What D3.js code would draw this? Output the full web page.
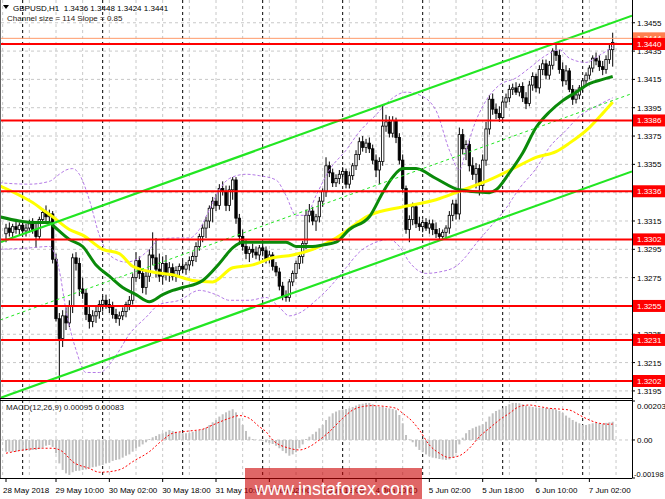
<!DOCTYPE html>
<html><head><meta charset="utf-8">
<script src="https://cdn.jsdelivr.net/npm/d3@7"></script>
<style>body{margin:0;background:#fff;} svg{display:block;} text{font-family:"Liberation Sans",Arial,sans-serif;}</style>
</head><body><svg id="c" width="665" height="499"></svg>
<script>
// ---------- DATA ----------
const symbolHeader = "GBPUSD,H1  1.3436 1.3448 1.3424 1.3441";
const channelHeader = "Channel size = 114 Slope = 0.85";
const macdHeader = "MACD(12,26,9) 0.00095 0.00083";
const watermark = "www.instaforex.com";

// hourly candles [open, high, low, close], 28 May 19:00 .. 7 Jun 09:00
const candles = [
[1.3306,1.3313,1.3300,1.3310],[1.3310,1.3314,1.3304,1.3307],[1.3307,1.3313,1.3303,1.3311],[1.3311,1.3316,1.3306,1.3309],[1.3309,1.3314,1.3305,1.3312],
[1.3312,1.3315,1.3306,1.3308],[1.3308,1.3313,1.3304,1.3310],[1.3310,1.3316,1.3307,1.3313],[1.3313,1.3317,1.3306,1.3309],[1.3309,1.3314,1.3296,1.3304],
[1.3304,1.3318,1.3302,1.3316],[1.3316,1.3324,1.3313,1.3321],[1.3321,1.3326,1.3315,1.3318],[1.3318,1.3323,1.3312,1.3320],[1.3320,1.3322,1.3285,1.3288],
[1.3288,1.3292,1.3244,1.3246],[1.3246,1.3250,1.3202,1.3232],[1.3232,1.3252,1.3226,1.3248],[1.3248,1.3254,1.3238,1.3243],[1.3243,1.3259,1.3240,1.3255],
[1.3255,1.3292,1.3250,1.3289],[1.3289,1.3293,1.3280,1.3285],[1.3285,1.3289,1.3262,1.3267],[1.3267,1.3275,1.3260,1.3264],[1.3264,1.3267,1.3245,1.3249],
[1.3249,1.3255,1.3239,1.3244],[1.3244,1.3252,1.3240,1.3248],[1.3248,1.3255,1.3243,1.3251],[1.3251,1.3259,1.3246,1.3256],[1.3256,1.3262,1.3251,1.3259],
[1.3259,1.3263,1.3253,1.3256],[1.3256,1.3260,1.3250,1.3254],[1.3254,1.3258,1.3246,1.3249],[1.3249,1.3253,1.3243,1.3246],[1.3246,1.3251,1.3241,1.3248],
[1.3248,1.3254,1.3245,1.3251],[1.3251,1.3258,1.3247,1.3256],[1.3256,1.3262,1.3252,1.3259],[1.3259,1.3278,1.3256,1.3275],[1.3275,1.3293,1.3272,1.3287],
[1.3287,1.3290,1.3274,1.3278],[1.3278,1.3281,1.3264,1.3268],[1.3268,1.3280,1.3263,1.3276],[1.3276,1.3295,1.3272,1.3291],[1.3291,1.3307,1.3284,1.3289],
[1.3289,1.3303,1.3275,1.3281],[1.3281,1.3292,1.3272,1.3276],[1.3276,1.3290,1.3270,1.3285],[1.3285,1.3291,1.3273,1.3277],[1.3277,1.3286,1.3272,1.3282],
[1.3282,1.3285,1.3273,1.3276],[1.3276,1.3283,1.3272,1.3280],[1.3280,1.3285,1.3276,1.3283],[1.3283,1.3287,1.3278,1.3281],[1.3281,1.3286,1.3277,1.3284],
[1.3284,1.3290,1.3280,1.3287],[1.3287,1.3293,1.3283,1.3290],[1.3290,1.3300,1.3286,1.3297],[1.3297,1.3306,1.3294,1.3304],[1.3304,1.3313,1.3300,1.3310],
[1.3310,1.3318,1.3303,1.3315],[1.3315,1.3326,1.3310,1.3324],[1.3324,1.3332,1.3314,1.3329],[1.3329,1.3334,1.3322,1.3326],[1.3326,1.3341,1.3323,1.3338],
[1.3338,1.3343,1.3333,1.3336],[1.3336,1.3340,1.3322,1.3326],[1.3326,1.3340,1.3322,1.3337],[1.3337,1.3346,1.3330,1.3344],[1.3344,1.3346,1.3313,1.3317],
[1.3317,1.3320,1.3298,1.3304],[1.3304,1.3309,1.3294,1.3297],[1.3297,1.3302,1.3288,1.3292],[1.3292,1.3297,1.3286,1.3295],[1.3295,1.3299,1.3289,1.3293],
[1.3293,1.3297,1.3288,1.3291],[1.3291,1.3298,1.3287,1.3296],[1.3296,1.3300,1.3290,1.3294],[1.3294,1.3297,1.3285,1.3288],[1.3288,1.3294,1.3285,1.3291],
[1.3291,1.3293,1.3280,1.3283],[1.3283,1.3286,1.3276,1.3279],[1.3279,1.3282,1.3266,1.3269],[1.3269,1.3272,1.3259,1.3262],[1.3262,1.3266,1.3258,1.3261],
[1.3261,1.3274,1.3258,1.3272],[1.3272,1.3280,1.3269,1.3278],[1.3278,1.3287,1.3274,1.3285],[1.3285,1.3292,1.3281,1.3290],[1.3290,1.3301,1.3285,1.3299],
[1.3299,1.3323,1.3295,1.3319],[1.3319,1.3327,1.3314,1.3322],[1.3322,1.3325,1.3312,1.3315],[1.3315,1.3320,1.3308,1.3318],[1.3318,1.3332,1.3314,1.3329],
[1.3329,1.3338,1.3325,1.3336],[1.3336,1.3360,1.3332,1.3354],[1.3354,1.3357,1.3346,1.3349],[1.3349,1.3352,1.3339,1.3342],[1.3342,1.3348,1.3339,1.3345],
[1.3345,1.3351,1.3341,1.3348],[1.3348,1.3353,1.3344,1.3350],[1.3350,1.3352,1.3338,1.3341],[1.3341,1.3350,1.3338,1.3347],[1.3347,1.3356,1.3344,1.3354],
[1.3354,1.3365,1.3351,1.3362],[1.3362,1.3374,1.3358,1.3371],[1.3371,1.3375,1.3364,1.3367],[1.3367,1.3373,1.3363,1.3370],[1.3370,1.3374,1.3363,1.3366],
[1.3366,1.3369,1.3355,1.3358],[1.3358,1.3362,1.3346,1.3351],[1.3351,1.3360,1.3341,1.3357],[1.3357,1.3397,1.3354,1.3382],[1.3382,1.3390,1.3378,1.3385],
[1.3385,1.3389,1.3374,1.3377],[1.3377,1.3389,1.3374,1.3386],[1.3386,1.3388,1.3370,1.3374],[1.3374,1.3377,1.3355,1.3358],[1.3358,1.3362,1.3335,1.3338],
[1.3338,1.3340,1.3306,1.3309],[1.3309,1.3319,1.3300,1.3316],[1.3316,1.3328,1.3312,1.3325],[1.3325,1.3327,1.3310,1.3313],[1.3313,1.3318,1.3308,1.3311],
[1.3311,1.3316,1.3307,1.3314],[1.3314,1.3317,1.3308,1.3310],[1.3310,1.3316,1.3306,1.3313],[1.3313,1.3316,1.3305,1.3309],[1.3309,1.3314,1.3303,1.3306],
[1.3306,1.3310,1.3301,1.3304],[1.3304,1.3309,1.3302,1.3307],[1.3307,1.3312,1.3302,1.3310],[1.3310,1.3322,1.3306,1.3319],[1.3319,1.3330,1.3315,1.3327],
[1.3327,1.3330,1.3316,1.3320],[1.3320,1.3381,1.3316,1.3376],[1.3376,1.3380,1.3362,1.3366],[1.3366,1.3372,1.3358,1.3369],[1.3369,1.3372,1.3350,1.3354],
[1.3354,1.3360,1.3344,1.3348],[1.3348,1.3356,1.3338,1.3352],[1.3352,1.3355,1.3333,1.3340],[1.3340,1.3362,1.3336,1.3358],[1.3358,1.3385,1.3354,1.3380],
[1.3380,1.3404,1.3376,1.3401],[1.3401,1.3405,1.3390,1.3394],[1.3394,1.3398,1.3387,1.3391],[1.3391,1.3396,1.3385,1.3388],[1.3388,1.3401,1.3386,1.3399],
[1.3399,1.3405,1.3395,1.3402],[1.3402,1.3411,1.3399,1.3408],[1.3408,1.3412,1.3404,1.3409],[1.3409,1.3413,1.3404,1.3406],[1.3406,1.3412,1.3403,1.3410],
[1.3410,1.3413,1.3399,1.3402],[1.3402,1.3406,1.3394,1.3398],[1.3398,1.3414,1.3396,1.3411],[1.3411,1.3420,1.3407,1.3417],[1.3417,1.3419,1.3406,1.3409],
[1.3409,1.3425,1.3405,1.3422],[1.3422,1.3429,1.3418,1.3426],[1.3426,1.3429,1.3415,1.3418],[1.3418,1.3428,1.3415,1.3425],[1.3425,1.3437,1.3422,1.3435],
[1.3435,1.3441,1.3428,1.3432],[1.3432,1.3436,1.3419,1.3422],[1.3422,1.3427,1.3410,1.3414],[1.3414,1.3425,1.3411,1.3421],[1.3421,1.3423,1.3406,1.3408],
[1.3408,1.3411,1.3397,1.3401],[1.3401,1.3408,1.3398,1.3404],[1.3404,1.3411,1.3401,1.3409],[1.3409,1.3416,1.3406,1.3414],[1.3414,1.3420,1.3411,1.3418],
[1.3418,1.3425,1.3415,1.3423],[1.3423,1.3432,1.3420,1.3430],[1.3430,1.3434,1.3425,1.3428],[1.3428,1.3432,1.3421,1.3424],[1.3424,1.3428,1.3418,1.3422],
[1.3422,1.3432,1.3419,1.3429],[1.3429,1.3440,1.3426,1.3436],[1.3436,1.3448,1.3424,1.3441]
];

// MACD histogram per bar
const macdMain = [
-0.00061,-0.00061,-0.00061,-0.00061,-0.00057,-0.00057,-0.00056,-0.00054,-0.00052,-0.00052,
-0.00047,-0.00040,-0.00030,-0.00026,-0.00036,-0.00069,-0.00122,-0.00156,-0.00174,-0.00182,
-0.00168,-0.00161,-0.00160,-0.00156,-0.00153,-0.00148,-0.00142,-0.00139,-0.00134,-0.00130,
-0.00122,-0.00118,-0.00109,-0.00104,-0.00101,-0.00092,-0.00082,-0.00075,-0.00061,-0.00043,
-0.00035,-0.00023,-0.00012,0.00005,0.00014,0.00021,0.00030,0.00035,0.00043,0.00052,
0.00047,0.00043,0.00038,0.00035,0.00035,0.00036,0.00043,0.00047,0.00050,0.00057,
0.00064,0.00078,0.00092,0.00104,0.00122,0.00134,0.00144,0.00153,0.00160,0.00144,
0.00113,0.00078,0.00047,0.00017,0.00005,0.00002,-0.00002,-0.00005,-0.00012,-0.00016,
-0.00021,-0.00030,-0.00043,-0.00057,-0.00069,-0.00082,-0.00075,-0.00064,-0.00043,-0.00023,
0.00005,0.00017,0.00030,0.00043,0.00061,0.00078,0.00104,0.00122,0.00139,0.00148,
0.00155,0.00158,0.00161,0.00165,0.00172,0.00179,0.00186,0.00189,0.00193,0.00193,
0.00186,0.00179,0.00172,0.00172,0.00168,0.00165,0.00161,0.00155,0.00130,0.00087,
0.00026,0.00003,-0.00012,-0.00035,-0.00052,-0.00064,-0.00075,-0.00085,-0.00092,-0.00095,
-0.00099,-0.00102,-0.00104,-0.00101,-0.00092,-0.00069,-0.00023,0.00012,0.00035,0.00052,
0.00061,0.00069,0.00075,0.00082,0.00095,0.00122,0.00139,0.00151,0.00158,0.00165,
0.00177,0.00186,0.00193,0.00193,0.00191,0.00186,0.00179,0.00175,0.00172,0.00168,
0.00168,0.00168,0.00167,0.00165,0.00163,0.00158,0.00151,0.00141,0.00127,0.00116,
0.00104,0.00095,0.00087,0.00078,0.00078,0.00082,0.00087,0.00090,0.00087,0.00085,
0.00089,0.00092,0.00095
];
// MACD signal line, read at bar indices
const signalIdx = [0,11,14,17,20,25,28,31,35,38,43,47,50,55,59,62,67,70,73,76,78,80,85,88,91,94,97,101,104,107,110,114,117,119,122,124,127,130,133,136,139,142,145,148,151,154,157,160,163,166,169,172,175,178,181,182];
const signalVal = [-0.00069,-0.00043,-0.00043,-0.00061,-0.00113,-0.00148,-0.00168,-0.00165,-0.00148,-0.00113,-0.00061,0.00000,0.00035,0.00047,0.00056,0.00078,0.00113,0.00127,0.00113,0.00069,0.00043,0.00000,-0.00043,-0.00052,-0.00035,0.00000,0.00043,0.00113,0.00156,0.00174,0.00179,0.00174,0.00165,0.00139,0.00095,0.00052,-0.00026,-0.00069,-0.00092,-0.00082,-0.00043,0.00017,0.00061,0.00104,0.00139,0.00174,0.00182,0.00174,0.00165,0.00161,0.00156,0.00130,0.00104,0.00087,0.00082,0.00083];

// moving averages read at bar indices
const greenIdx = [-2,4,8,13,14,19,23,27,31,35,39,43,47,50,53,59,64,68,71,74,80,84,87,92,95,99,103,109,113,116,119,123,129,136,145,147,151,155,159,163,167,171,175,179,182];
const greenVal = [1.3318,1.3315,1.3314,1.3314,1.3312,1.3302,1.3297,1.3284,1.3276,1.3268,1.3263,1.3258,1.3263,1.3266,1.3268,1.3273,1.3285,1.3296,1.3300,1.3300,1.3300,1.3300,1.3297,1.3297,1.3298,1.3300,1.3309,1.3318,1.3335,1.3346,1.3352,1.3352,1.3345,1.3337,1.3335,1.3337,1.3349,1.3363,1.3381,1.3392,1.3400,1.3406,1.3412,1.3415,1.3417];
const yellowIdx = [-2,5,8,11,14,19,23,29,34,38,44,50,56,62,68,74,80,86,92,99,109,119,129,136,145,153,159,165,169,175,179,182];
const yellowVal = [1.3340,1.3332,1.3328,1.3323,1.3318,1.3309,1.3305,1.3295,1.3292,1.3283,1.3279,1.3277,1.3273,1.3272,1.3282,1.3284,1.3289,1.3291,1.3295,1.3303,1.3319,1.3325,1.3330,1.3336,1.3344,1.3353,1.3360,1.3364,1.3370,1.3381,1.3391,1.3399];

// envelope bands (dotted violet)
const upperIdx = [-2,7,13,16,18,20,22,25,28,31,36,40,43,46,51,55,58,61,64,67,72,76,81,84,87,90,93,97,102,106,111,115,120,124,129,133,136,138,141,144,148,153,157,162,166,169,174,178,182];
const upperVal = [1.3342,1.3341,1.3343,1.3348,1.3351,1.3352,1.3348,1.3330,1.3305,1.3291,1.3286,1.3289,1.3295,1.3302,1.3303,1.3303,1.3309,1.3323,1.3337,1.3345,1.3348,1.3347,1.3344,1.3333,1.3319,1.3319,1.3333,1.3351,1.3365,1.3378,1.3390,1.3400,1.3406,1.3404,1.3393,1.3365,1.3351,1.3365,1.3386,1.3400,1.3411,1.3416,1.3423,1.3432,1.3436,1.3430,1.3427,1.3432,1.3438];
const lowerIdx = [-2,7,13,16,18,21,24,28,33,37,42,46,52,58,63,67,73,78,82,85,88,93,97,102,106,111,115,118,121,126,130,135,138,141,145,150,154,159,163,168,172,177,182];
const lowerVal = [1.3295,1.3296,1.3297,1.3280,1.3252,1.3224,1.3208,1.3208,1.3220,1.3235,1.3247,1.3256,1.3259,1.3266,1.3263,1.3259,1.3259,1.3261,1.3254,1.3248,1.3250,1.3259,1.3268,1.3282,1.3293,1.3300,1.3302,1.3297,1.3286,1.3278,1.3279,1.3283,1.3290,1.3299,1.3310,1.3324,1.3338,1.3352,1.3367,1.3379,1.3389,1.3396,1.3402];

// regression channel end points
const channelIdx = [-1.8, 187.8];
const channelUpper = [1.3300, 1.3460];
const channelMid = [1.3245, 1.3405];
const channelLower = [1.3190, 1.3350];

// horizontal levels
const levels = [1.3440, 1.3386, 1.3336, 1.3302, 1.3255, 1.3231, 1.3202];
const askLine = 1.3444;

// axes
const priceTicks = [1.3455,1.3435,1.3415,1.3395,1.3375,1.3355,1.3335,1.3315,1.3295,1.3275,1.3255,1.3235,1.3215,1.3195];
const macdTicks = [0.00203, 0.00, -0.00198];
const macdTickLabels = ["0.00203", "0.00", "-0.00198"];
const timeIdx = [0,15,31,47,63,79,95,111,127,143,159,175];
const timeLabels = ["28 May 2018","29 May 10:00","30 May 02:00","30 May 18:00","31 May 10:00","1 Jun 02:00","1 Jun 18:00","4 Jun 10:00","5 Jun 02:00","5 Jun 18:00","6 Jun 10:00","7 Jun 02:00"];
const gridIdx = [-1,7,15,23,31,39,47,55,63,71,79,87,95,103,111,119,127,135,143,151,159,167,175,183];
const daySepIdx = [5,29,53,77,101,125,149,173];

// ---------- DRAW ----------
const svg = d3.select('#c');
const plotL = 1, plotR = 632, mainB = 398, macdT = 400, macdB = 478;
const x = d3.scaleLinear().domain([0, 182]).range([6, 612.7]);
const y = d3.scaleLinear().domain([1.3202, 1.3440]).range([381, 44]);
const ym = d3.scaleLinear().domain([-0.00198, 0.00203]).range([478, 401]);

const defs = svg.append('defs');
defs.append('clipPath').attr('id','cm').append('rect').attr('x',plotL).attr('y',0).attr('width',plotR-plotL).attr('height',mainB);
defs.append('clipPath').attr('id','cd').append('rect').attr('x',plotL).attr('y',macdT).attr('width',plotR-plotL).attr('height',macdB-macdT);

const gMain = svg.append('g').attr('clip-path','url(#cm)');
const gMacd = svg.append('g').attr('clip-path','url(#cd)');

// grid
[[gMain,0,mainB],[gMacd,macdT,macdB]].forEach(([g,t,b])=>{
  g.selectAll(null).data(gridIdx).enter().append('line')
    .attr('x1',d=>x(d)).attr('x2',d=>x(d)).attr('y1',t).attr('y2',b)
    .attr('stroke','#c8c8c8').attr('stroke-width',1).attr('stroke-dasharray','3,3');
  g.selectAll(null).data(daySepIdx).enter().append('line')
    .attr('x1',d=>x(d)).attr('x2',d=>x(d)).attr('y1',t).attr('y2',b)
    .attr('stroke','#000').attr('stroke-width',1).attr('stroke-dasharray','3,3');
});
gMain.selectAll(null).data(priceTicks).enter().append('line')
  .attr('x1',plotL).attr('x2',plotR).attr('y1',d=>y(d)).attr('y2',d=>y(d))
  .attr('stroke','#c8c8c8').attr('stroke-width',1).attr('stroke-dasharray','3,3');
gMacd.append('line').attr('x1',plotL).attr('x2',plotR).attr('y1',ym(0)).attr('y2',ym(0))
  .attr('stroke','#c8c8c8').attr('stroke-dasharray','3,3');

// candles
const cg = gMain.append('g');
cg.selectAll(null).data(candles).enter().append('line')
  .attr('x1',(d,i)=>x(i)).attr('x2',(d,i)=>x(i))
  .attr('y1',d=>y(d[1])).attr('y2',d=>y(d[2]))
  .attr('stroke','#000').attr('stroke-width',1);
cg.selectAll(null).data(candles).enter().append('rect')
  .attr('x',(d,i)=>x(i)-1.2).attr('width',2.4)
  .attr('y',d=>y(Math.max(d[0],d[3])))
  .attr('height',d=>Math.max(0.8,Math.abs(y(d[0])-y(d[3]))))
  .attr('fill',d=>d[3]>=d[0]?'#fff':'#000')
  .attr('stroke','#000').attr('stroke-width',0.8);

// envelope bands
const lineIdx = d3.line().x(d=>x(d[0])).curve(d3.curveMonotoneX);
[[upperIdx,upperVal],[lowerIdx,lowerVal]].forEach(([ix,vv])=>{
  gMain.append('path').datum(ix.map((v,k)=>[v,vv[k]]))
    .attr('d',lineIdx.y(d=>y(d[1])))
    .attr('fill','none').attr('stroke','#b47ae6').attr('stroke-width',1).attr('stroke-dasharray','3,2');
});

// moving averages
gMain.append('path').datum(yellowIdx.map((v,k)=>[v,yellowVal[k]]))
  .attr('d',lineIdx.y(d=>y(d[1]))).attr('fill','none').attr('stroke','#ffff00').attr('stroke-width',3);
gMain.append('path').datum(greenIdx.map((v,k)=>[v,greenVal[k]]))
  .attr('d',lineIdx.y(d=>y(d[1]))).attr('fill','none').attr('stroke','#0a8a0a').attr('stroke-width',3);

// channel
const straight = d3.line().x(d=>x(d[0])).y(d=>y(d[1]));
[[channelUpper,2.2,null],[channelLower,2.2,null],[channelMid,1,'3,3']].forEach(([vals,w,dash])=>{
  gMain.append('path').datum(channelIdx.map((v,k)=>[v,vals[k]]))
    .attr('d',straight).attr('fill','none').attr('stroke','#22e622').attr('stroke-width',w)
    .attr('stroke-dasharray',dash);
});

// ask line + horizontal levels
gMain.append('line').attr('x1',plotL).attr('x2',plotR).attr('y1',y(askLine)).attr('y2',y(askLine))
  .attr('stroke','#ff9a6a').attr('stroke-width',1);
gMain.selectAll(null).data(levels).enter().append('line')
  .attr('x1',plotL).attr('x2',plotR).attr('y1',d=>y(d)).attr('y2',d=>y(d))
  .attr('stroke','#ff0000').attr('stroke-width',2);

// MACD histogram
gMacd.selectAll(null).data(macdMain).enter().append('rect')
  .attr('x',(d,i)=>x(i)-1).attr('width',2)
  .attr('y',d=>Math.min(ym(d),ym(0))).attr('height',d=>Math.abs(ym(d)-ym(0)))
  .attr('fill','#c0c0c0');
gMacd.append('path').datum(signalIdx.map((v,k)=>[v,signalVal[k]]))
  .attr('d',d3.line().x(d=>x(d[0])).y(d=>ym(d[1])).curve(d3.curveMonotoneX))
  .attr('fill','none').attr('stroke','#ff0000').attr('stroke-width',1).attr('stroke-dasharray','2,2');

// frames
svg.append('line').attr('x1',plotR+0.5).attr('x2',plotR+0.5).attr('y1',0).attr('y2',macdB).attr('stroke','#000');
svg.append('line').attr('x1',0.5).attr('x2',0.5).attr('y1',0).attr('y2',macdB).attr('stroke','#666');
svg.append('line').attr('x1',0).attr('x2',plotR).attr('y1',mainB+0.5).attr('y2',mainB+0.5).attr('stroke','#000');
svg.append('line').attr('x1',0).attr('x2',plotR).attr('y1',macdT+0.5).attr('y2',macdT+0.5).attr('stroke','#000');
svg.append('line').attr('x1',0).attr('x2',plotR).attr('y1',macdB+0.5).attr('y2',macdB+0.5).attr('stroke','#000');

// price axis
svg.selectAll(null).data(priceTicks).enter().append('line')
  .attr('x1',plotR).attr('x2',plotR+3).attr('y1',d=>y(d)).attr('y2',d=>y(d)).attr('stroke','#000');
svg.selectAll(null).data(priceTicks).enter().append('text')
  .attr('x',637).attr('y',d=>y(d)+3).attr('font-size',8).attr('fill','#000').text(d=>d.toFixed(4));
// ask label
svg.append('rect').attr('x',633).attr('y',y(askLine)-6).attr('width',32).attr('height',12).attr('fill','#ff7f50');
svg.append('text').attr('x',637).attr('y',y(askLine)+3).attr('font-size',8).attr('fill','#fff').text(askLine.toFixed(4));
// level labels
const lv = svg.selectAll(null).data(levels.slice().reverse()).enter().append('g');
lv.append('rect').attr('x',633).attr('y',d=>y(d)-6).attr('width',32).attr('height',12).attr('fill','#ff0000');
lv.append('text').attr('x',637).attr('y',d=>y(d)+3).attr('font-size',8).attr('fill','#fff').text(d=>d.toFixed(4));

// macd axis
svg.selectAll(null).data(macdTicks).enter().append('line')
  .attr('x1',plotR).attr('x2',plotR+3).attr('y1',d=>ym(d)).attr('y2',d=>ym(d)).attr('stroke','#000');
svg.selectAll(null).data(macdTicks).enter().append('text')
  .attr('x',(d,k)=>k===2?634:637)
  .attr('y',(d,k)=>[ym(d)+8, ym(d)+3, ym(d)-1][k]).attr('font-size',(d,k)=>k===2?7.5:8).attr('fill','#000')
  .text((d,k)=>macdTickLabels[k]);

// time axis
svg.selectAll(null).data(timeIdx).enter().append('line')
  .attr('x1',d=>x(d)).attr('x2',d=>x(d)).attr('y1',macdB).attr('y2',macdB+4).attr('stroke','#000');
svg.selectAll(null).data(timeIdx).enter().append('text')
  .attr('x',(d,k)=>k===0?3:x(d)-0.5).attr('y',492.5).attr('font-size',8).attr('fill','#000')
  .text((d,k)=>timeLabels[k]);

// headers
svg.append('path').attr('d','M3,5 L9,5 L6,9 Z').attr('fill','#000');
svg.append('text').attr('x',13).attr('y',10.5).attr('font-size',8).attr('fill','#000').attr('xml:space','preserve').text(symbolHeader);
svg.append('text').attr('x',7).attr('y',21).attr('font-size',8).attr('fill','#2a2215').text(channelHeader);
svg.append('text').attr('x',6).attr('y',410).attr('font-size',8).attr('fill','#222').text(macdHeader);

// watermark
svg.append('rect').attr('x',245).attr('y',468).attr('width',177).attr('height',31).attr('fill','rgb(204,0,0)').attr('opacity',0.6);
svg.append('text').attr('x',255).attr('y',495).attr('font-size',18).attr('fill','#fff').text(watermark);
</script>
</body></html>
